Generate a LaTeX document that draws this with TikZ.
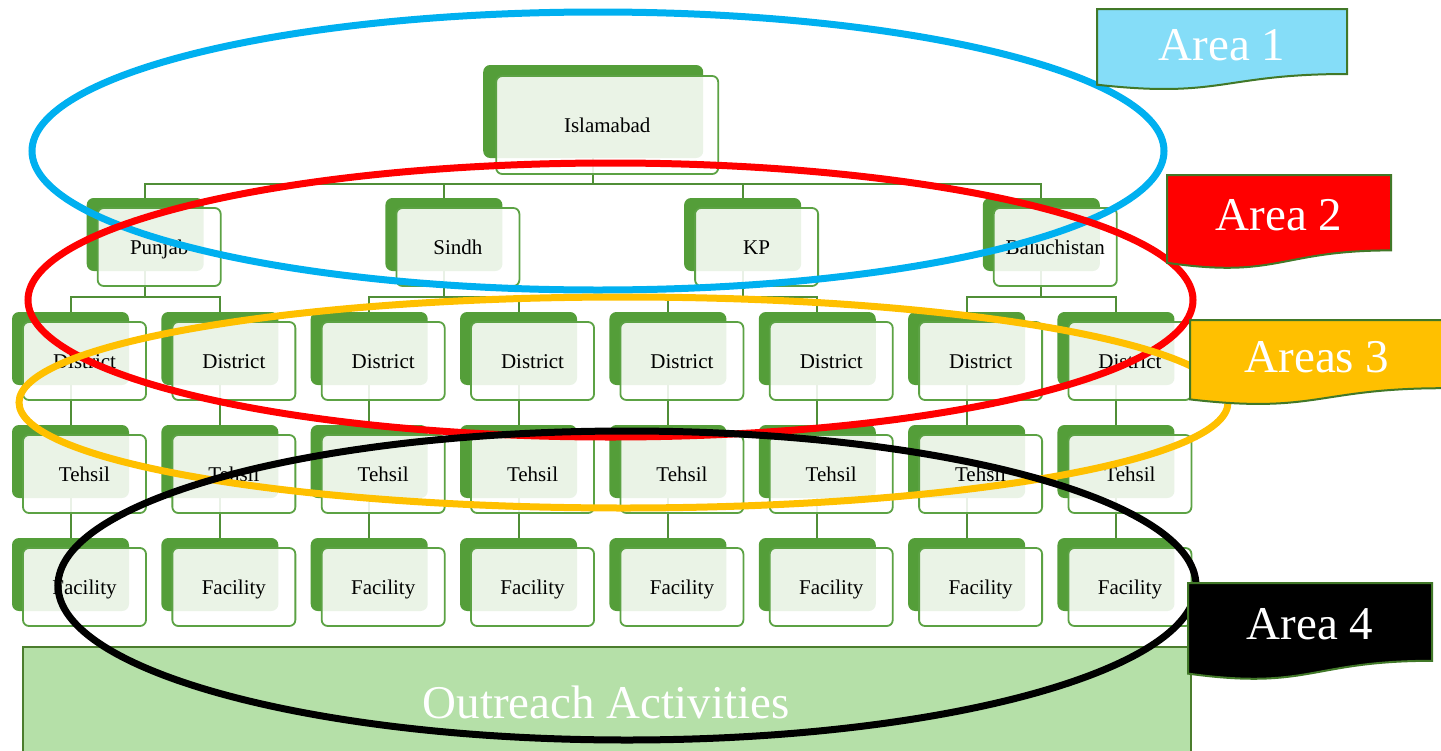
\documentclass[tikz,border=0pt]{standalone}
\usepackage{fontspec}
\setmainfont{Liberation Serif}
\definecolor{gback}{RGB}{84,158,57}
\definecolor{gline}{RGB}{92,162,68}
\definecolor{gconn}{RGB}{80,142,55}
\definecolor{oreach}{RGB}{181,224,168}
\definecolor{oborder}{RGB}{75,125,45}
\definecolor{lblborder}{RGB}{65,120,40}
\definecolor{aone}{RGB}{133,221,248}
\definecolor{eblue}{RGB}{0,176,240}
\definecolor{eorange}{RGB}{255,192,0}
\begin{document}
\begin{tikzpicture}[x=1pt,y=-1pt,
  backbox/.style={fill=gback, draw=none, rounded corners=7pt, minimum width=117pt, minimum height=73pt, inner sep=0pt},
  frontbox/.style={fill=white, fill opacity=0.88, text opacity=1, draw=gline, line width=1.8pt, rounded corners=6pt,
     minimum width=123pt, minimum height=78pt, inner sep=0pt, font=\fontsize{21}{25}\selectfont, text height=14pt, text depth=0pt},
  conn/.style={draw=gconn, line width=2pt},
  ring/.style={line width=7pt},
  lbl/.style={draw=lblborder, line width=2pt},
  lbltext/.style={anchor=base, text=white, font=\fontsize{47}{56}\selectfont, inner sep=0pt}
]
\useasboundingbox (0,0) rectangle (1441,750);
\clip (0,0) rectangle (1441,750);

% back boxes
\node[backbox, minimum width=220pt, minimum height=93pt] (isl-b) at (593.2,111.5) {};
\foreach \n/\x in {pun/145.2, sin/443.9, kp/742.6, bal/1041.3}
  \node[backbox] (\n-b) at (\x,234.5) {};
\foreach \i/\x in {1/70.5,2/219.85,3/369.2,4/518.55,5/667.9,6/817.25,7/966.6,8/1115.95}{
  \node[backbox] (d\i-b) at (\x,348.5) {};
  \node[backbox] (t\i-b) at (\x,461.5) {};
  \node[backbox] (f\i-b) at (\x,574.5) {};
}

% connectors
\foreach \n in {pun,sin,kp,bal}
  \draw[conn] (isl-b.south) -- ++(0,26) -| (\n-b.north);
\draw[conn] (pun-b.south) -- ++(0,26) -| (d1-b.north);
\draw[conn] (pun-b.south) -- ++(0,26) -| (d2-b.north);
\draw[conn] (sin-b.south) -- ++(0,26) -| (d3-b.north);
\draw[conn] (sin-b.south) -- ++(0,26) -| (d4-b.north);
\draw[conn] (kp-b.south) -- ++(0,26) -| (d5-b.north);
\draw[conn] (kp-b.south) -- ++(0,26) -| (d6-b.north);
\draw[conn] (bal-b.south) -- ++(0,26) -| (d7-b.north);
\draw[conn] (bal-b.south) -- ++(0,26) -| (d8-b.north);
\foreach \i in {1,...,8}{
  \draw[conn] (d\i-b.south) -- (t\i-b.north);
  \draw[conn] (t\i-b.south) -- (f\i-b.north);
}

% front boxes
\node[frontbox, minimum width=222pt, minimum height=98pt] (isl) at (607.2,125) {Islamabad};
\foreach \n/\x/\t in {pun/145.2/Punjab, sin/443.9/Sindh, kp/742.6/KP, bal/1041.3/Baluchistan}
  \node[frontbox] (\n) at (\x+14,247) {\t};
\foreach \i/\x in {1/70.5,2/219.85,3/369.2,4/518.55,5/667.9,6/817.25,7/966.6,8/1115.95}{
  \node[frontbox] (d\i) at (\x+14,361) {District};
  \node[frontbox] (t\i) at (\x+14,474) {Tehsil};
  \node[frontbox] (f\i) at (\x+14,587) {Facility};
}

% outreach
\node[draw=oborder, fill=oreach, line width=2pt, minimum width=1168pt, minimum height=150pt, anchor=north west, inner sep=0pt] (outreach) at (22,646) {};
\node[lbltext] (outtxt) at (606,718) {Outreach Activities};

% rings
\draw[ring, eblue] (598,151) ellipse [x radius=566pt, y radius=139pt];
\draw[ring, red] (610.5,300) ellipse [x radius=582.5pt, y radius=137pt];
\draw[ring, eorange] (623.5,402.5) ellipse [x radius=604.5pt, y radius=105.5pt];
\draw[ring, black] (627,585.5) ellipse [x radius=569pt, y radius=154.5pt];

% area labels
\draw[lbl, fill=aone] (1097,9) -- (1347,9) -- (1347,74) .. controls (1222,74) and (1222,98.7) .. (1097,84.7) -- cycle;
\node[lbltext] (a1) at (1222,60) {Area 1};
\draw[lbl, fill=red] (1167,175) -- (1391,175) -- (1391,250.4) .. controls (1279,250.4) and (1279,279) .. (1167,262.8) -- cycle;
\node[lbltext] (a2) at (1279,230) {Area 2};
\draw[lbl, fill=eorange] (1190,320) -- (1444,320) -- (1444,388.2) .. controls (1317,388.2) and (1317,414.1) .. (1190,399.4) -- cycle;
\node[lbltext] (a3) at (1317,372) {Areas 3};
\draw[lbl, fill=black] (1188,583) -- (1432,583) -- (1432,660.8) .. controls (1310,660.8) and (1310,690.4) .. (1188,673.6) -- cycle;
\node[lbltext] (a4) at (1310,639) {Area 4};
\end{tikzpicture}
\end{document}
